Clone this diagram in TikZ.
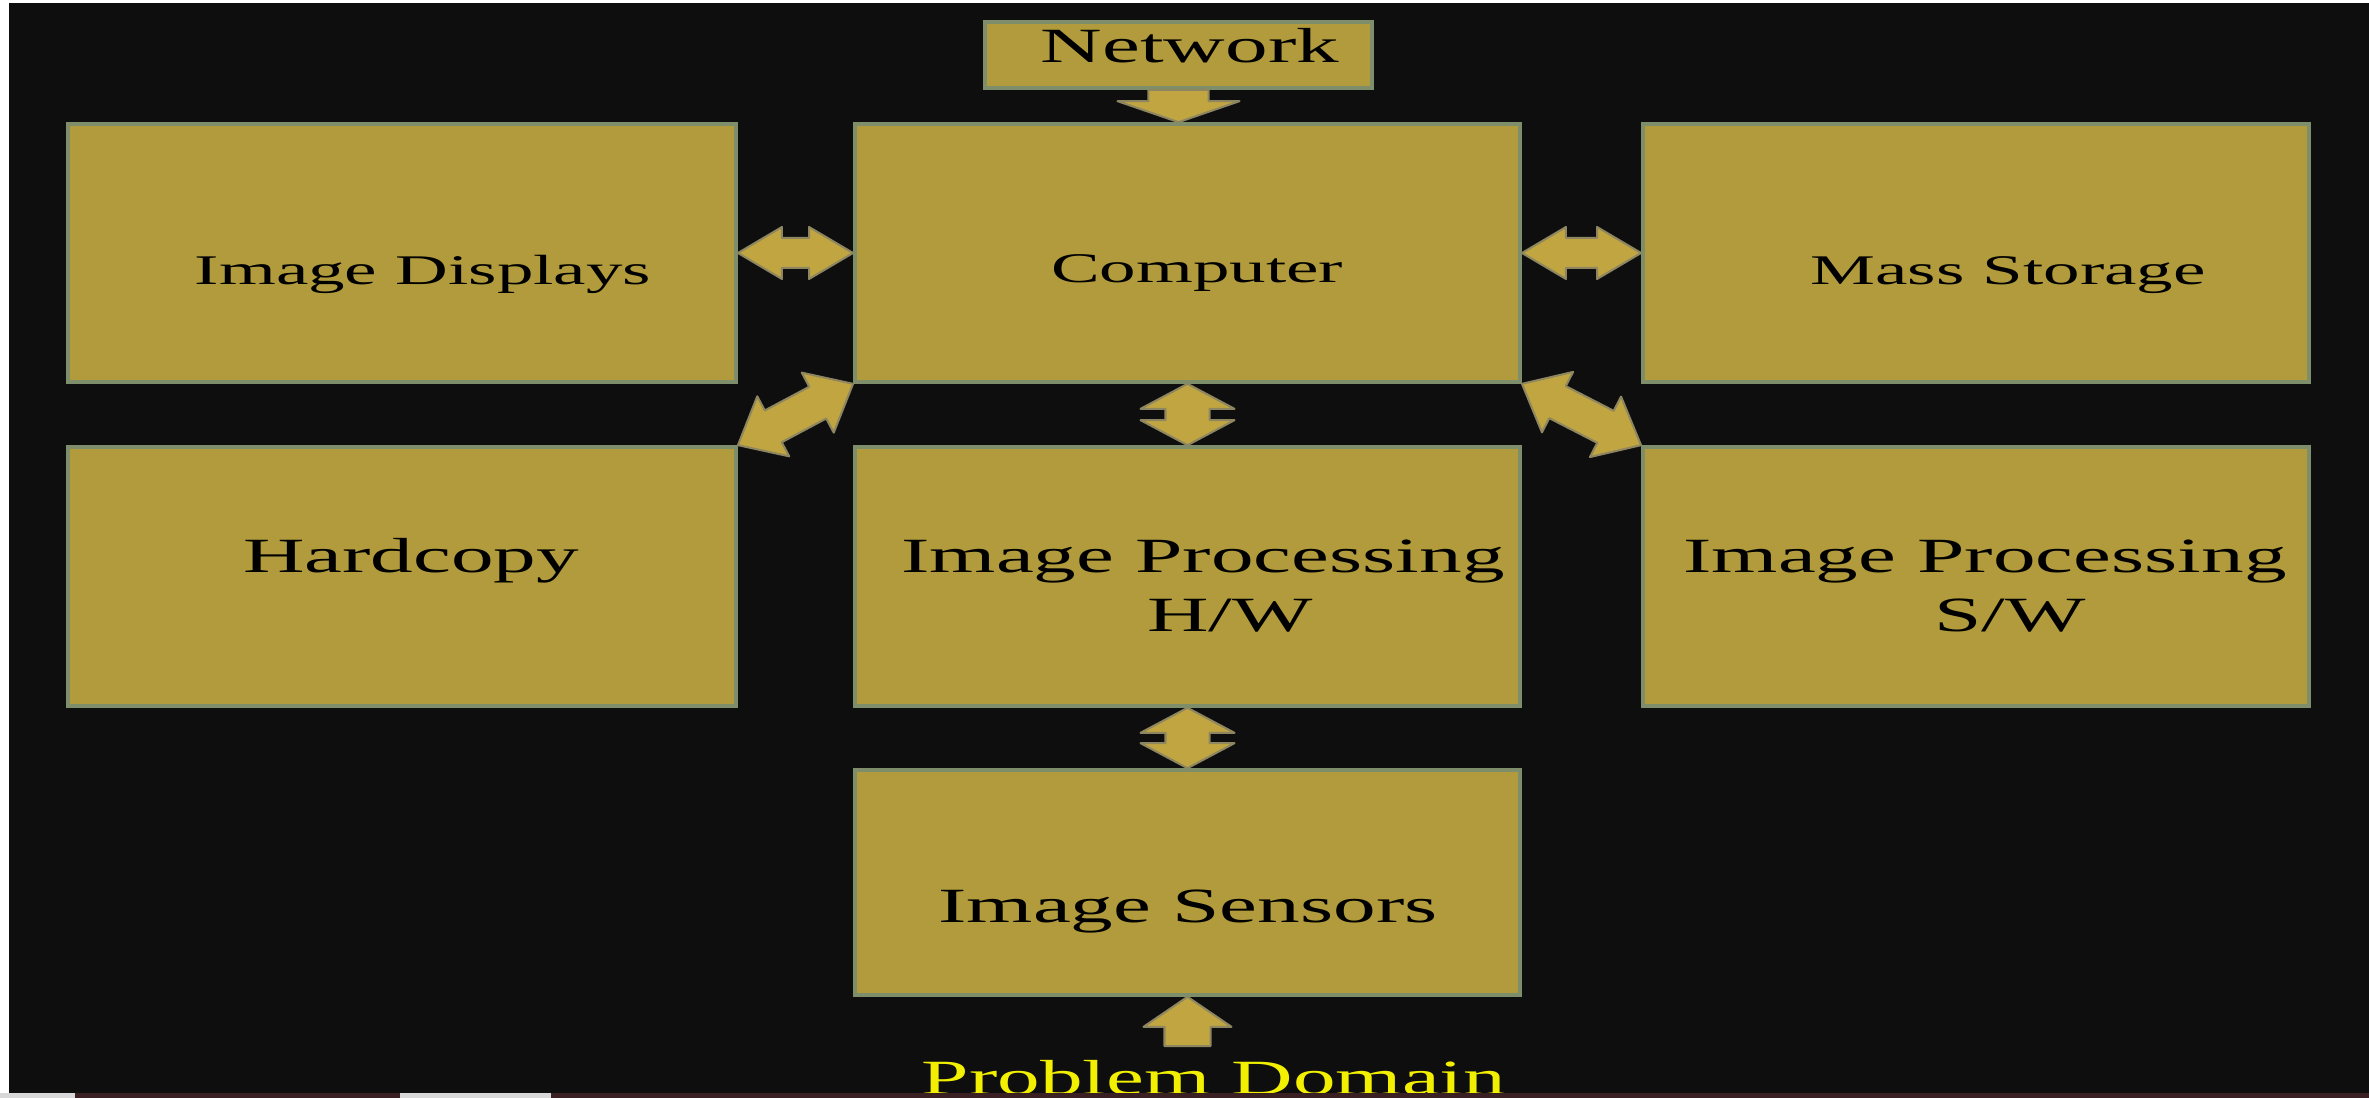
\documentclass[tikz,border=0pt]{standalone}
\usepackage{fontspec}
\setmainfont{Liberation Serif}
\newfontfamily\widefont[FakeStretch=1.73]{Liberation Serif}
\usetikzlibrary{calc}

\definecolor{bg}{HTML}{0E0E0E}
\definecolor{boxfill}{HTML}{B19B3C}
\definecolor{boxedge}{HTML}{7E8D6A}
\definecolor{arrowfill}{HTML}{C0A540}
\definecolor{arrowedge}{HTML}{8E8660}
\definecolor{pdyellow}{HTML}{F2F000}
\definecolor{bottomstrip}{HTML}{3A2022}
\definecolor{lightbit}{HTML}{D8D8D8}

% double-headed block arrow: tip A, tip B, head half width, shaft half width, head length
\newcommand\fatdouble[5]{%
  \filldraw[fatarrow] (#1)
    -- ($(#1)!#5!(#2)!#3!90:(#2)$)
    -- ($(#1)!#5!(#2)!#4!90:(#2)$)
    -- ($(#2)!#5!(#1)!#4!-90:(#1)$)
    -- ($(#2)!#5!(#1)!#3!-90:(#1)$)
    -- (#2)
    -- ($(#2)!#5!(#1)!#3!90:(#1)$)
    -- ($(#2)!#5!(#1)!#4!90:(#1)$)
    -- ($(#1)!#5!(#2)!#4!-90:(#2)$)
    -- ($(#1)!#5!(#2)!#3!-90:(#2)$)
    -- cycle;}
% single block arrow: tail A, tip B, head half width, shaft half width, head length
\newcommand\fatsingle[5]{%
  \filldraw[fatarrow] ($(#1)!#4!90:(#2)$)
    -- ($(#2)!#5!(#1)!#4!-90:(#1)$)
    -- ($(#2)!#5!(#1)!#3!-90:(#1)$)
    -- (#2)
    -- ($(#2)!#5!(#1)!#3!90:(#1)$)
    -- ($(#2)!#5!(#1)!#4!90:(#1)$)
    -- ($(#1)!#4!-90:(#2)$)
    -- cycle;}

\begin{document}
\begin{tikzpicture}[x=0.01cm,y=-0.01cm,
  blockbox/.style={draw=boxedge, fill=boxfill, line width=0.035cm, inner sep=0pt},
  fatarrow/.style={fill=arrowfill, draw=arrowedge, line width=0.02cm, line join=round},
  smalltext/.style={anchor=base, inner sep=0pt, text=black, font=\widefont\fontsize{12}{14}\selectfont},
  bigtext/.style={anchor=base, inner sep=0pt, text=black, font=\widefont\fontsize{14}{16}\selectfont}]

\useasboundingbox (0,0) rectangle (2369,1098);
\clip (0,0) rectangle (2369,1098);
\fill[bg] (0,0) rectangle (2369,1098);
\fill[white] (0,0) rectangle (9,1098);
\fill[white] (0,0) rectangle (2369,3);

% boxes
\node[blockbox, minimum width=6.68cm, minimum height=2.58cm] (disp) at (402,253) {};
\node[blockbox, minimum width=6.65cm, minimum height=2.58cm] (comp) at (1187.5,253) {};
\node[blockbox, minimum width=6.66cm, minimum height=2.58cm] (mass) at (1976,253) {};
\node[blockbox, minimum width=3.87cm, minimum height=0.66cm] (net) at (1178.5,55) {};
\node[blockbox, minimum width=6.68cm, minimum height=2.59cm] (hard) at (402,576.5) {};
\node[blockbox, minimum width=6.65cm, minimum height=2.59cm] (hw) at (1187.5,576.5) {};
\node[blockbox, minimum width=6.66cm, minimum height=2.59cm] (sw) at (1976,576.5) {};
\node[blockbox, minimum width=6.65cm, minimum height=2.25cm] (sens) at (1187.5,882.5) {};

% texts
\node[bigtext] (netT) at (1190,63) {Network};
\node[smalltext] (dispT) at (423,285) {Image Displays};
\node[smalltext] (compT) at (1197,283) {Computer};
\node[smalltext] (massT) at (2008,285) {Mass Storage};
\node[bigtext] (hardT) at (411,573) {Hardcopy};
\node[bigtext] (hw1) at (1203,573) {Image Processing};
\node[bigtext] (hw2) at (1230,632) {H/W};
\node[bigtext] (sw1) at (1985,573) {Image Processing};
\node[bigtext] (sw2) at (2010,632) {S/W};
\node[bigtext] (sensT) at (1188,923) {Image Sensors};
\node[bigtext, text=pdyellow] (pd) at (1214,1095) {Problem Domain};
\coordinate (pdtop) at ($(pd.north)+(0,-14)$);

% connectors
\fatsingle{net.south}{net.south |- comp.north}{0.61cm}{0.30cm}{0.21cm}
\fatdouble{disp.east}{comp.west}{0.26cm}{0.15cm}{0.44cm}
\fatdouble{comp.east}{mass.west}{0.26cm}{0.15cm}{0.44cm}
\fatdouble{comp.south}{hw.north}{0.47cm}{0.22cm}{0.25cm}
\fatdouble{hw.south}{sens.north}{0.47cm}{0.22cm}{0.25cm}
\fatdouble{hard.north east}{comp.south west}{0.34cm}{0.18cm}{0.40cm}
\fatdouble{comp.south east}{sw.north west}{0.34cm}{0.18cm}{0.40cm}
\fatsingle{sens.south |- pdtop}{sens.south}{0.44cm}{0.23cm}{0.30cm}

% bottom strip
\fill[bottomstrip] (0,1093) rectangle (2369,1098);
\fill[lightbit] (0,1093) rectangle (75,1098);
\fill[lightbit] (400,1093) rectangle (551,1098);
\end{tikzpicture}
\end{document}
